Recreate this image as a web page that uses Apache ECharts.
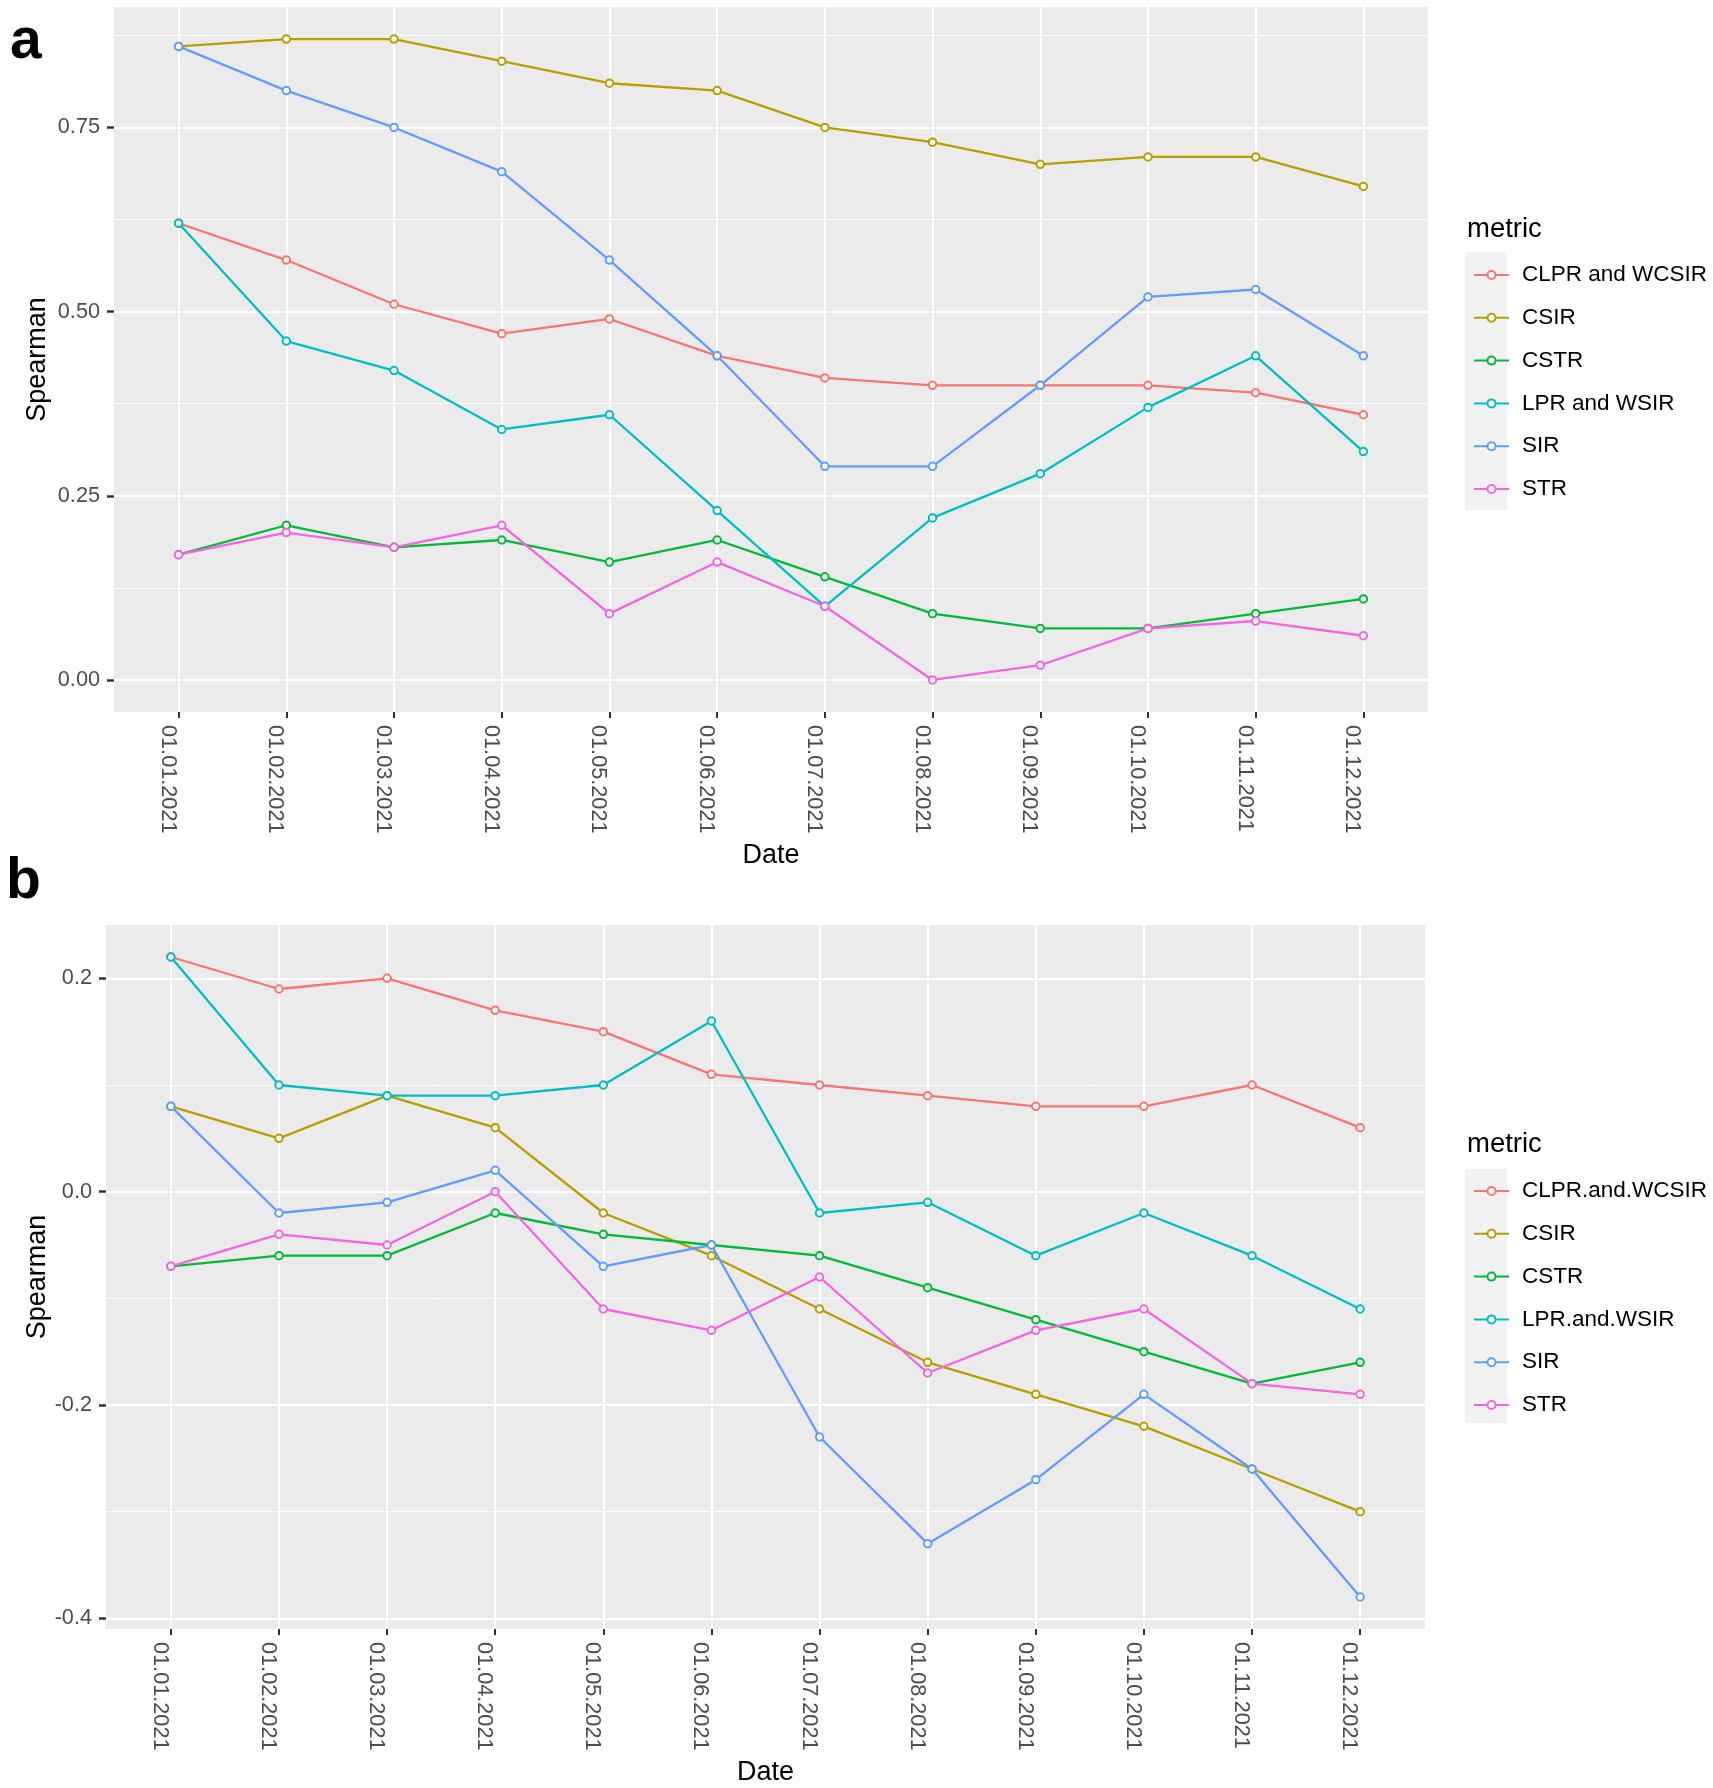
<!DOCTYPE html>
<html>
<head>
<meta charset="utf-8">
<script src="https://cdn.jsdelivr.net/npm/echarts@6.0.0/dist/echarts.min.js"></script>
<style>
html, body { margin: 0; padding: 0; background: #fff; }
#chart { width: 1713px; height: 1788px; }
</style>
</head>
<body>
<div id="chart"></div>
<script>
var dates = ['01.01.2021', '01.02.2021', '01.03.2021', '01.04.2021', '01.05.2021', '01.06.2021',
    '01.07.2021', '01.08.2021', '01.09.2021', '01.10.2021', '01.11.2021', '01.12.2021'];
var colors = ['#F8766D', '#B79F00', '#00BA38', '#00BFC4', '#619CFF', '#F564E3'];

// panel a
var namesA = ['CLPR and WCSIR', 'CSIR', 'CSTR', 'LPR and WSIR', 'SIR', 'STR'];
var clprA = [0.62, 0.57, 0.51, 0.47, 0.49, 0.44, 0.41, 0.40, 0.40, 0.40, 0.39, 0.36];
var csirA = [0.86, 0.87, 0.87, 0.84, 0.81, 0.80, 0.75, 0.73, 0.70, 0.71, 0.71, 0.67];
var cstrA = [0.17, 0.21, 0.18, 0.19, 0.16, 0.19, 0.14, 0.09, 0.07, 0.07, 0.09, 0.11];
var lprA = [0.62, 0.46, 0.42, 0.34, 0.36, 0.23, 0.10, 0.22, 0.28, 0.37, 0.44, 0.31];
var sirA = [0.86, 0.80, 0.75, 0.69, 0.57, 0.44, 0.29, 0.29, 0.40, 0.52, 0.53, 0.44];
var strA = [0.17, 0.20, 0.18, 0.21, 0.09, 0.16, 0.10, 0.00, 0.02, 0.07, 0.08, 0.06];
var ticksA = [0, 0.25, 0.5, 0.75];
var minorA = [0.125, 0.375, 0.625, 0.875];

// panel b
var namesB = ['CLPR.and.WCSIR', 'CSIR', 'CSTR', 'LPR.and.WSIR', 'SIR', 'STR'];
var clprB = [0.22, 0.19, 0.20, 0.17, 0.15, 0.11, 0.10, 0.09, 0.08, 0.08, 0.10, 0.06];
var csirB = [0.08, 0.05, 0.09, 0.06, -0.02, -0.06, -0.11, -0.16, -0.19, -0.22, -0.26, -0.30];
var cstrB = [-0.07, -0.06, -0.06, -0.02, -0.04, -0.05, -0.06, -0.09, -0.12, -0.15, -0.18, -0.16];
var lprB = [0.22, 0.10, 0.09, 0.09, 0.10, 0.16, -0.02, -0.01, -0.06, -0.02, -0.06, -0.11];
var sirB = [0.08, -0.02, -0.01, 0.02, -0.07, -0.05, -0.23, -0.33, -0.27, -0.19, -0.26, -0.38];
var strB = [-0.07, -0.04, -0.05, 0.00, -0.11, -0.13, -0.08, -0.17, -0.13, -0.11, -0.18, -0.19];
var ticksB = [-0.4, -0.2, 0, 0.2];
var minorB = [-0.3, -0.1, 0.1];

var seriesA = [clprA, csirA, cstrA, lprA, sirA, strA];
var seriesB = [clprB, csirB, cstrB, lprB, sirB, strB];
var idx = dates.map(function (d, i) { return i; });

var FONT = 'Liberation Sans, Arial, sans-serif';

// ggplot style expansion of 5% of the data range
function expand(arrs) {
    var all = [].concat.apply([], arrs);
    var lo = Math.min.apply(null, all), hi = Math.max.apply(null, all);
    var pad = (hi - lo) * 0.05;
    return [lo - pad, hi + pad];
}
var rangeA = expand(seriesA);
var rangeB = expand(seriesB);

function xAxisFor(g) {
    return {
        type: 'value', gridIndex: g, min: -0.6, max: 11.6,
        name: 'Date', nameLocation: 'middle', nameGap: 143.5, nameMoveOverlap: false,
        nameTextStyle: { fontFamily: FONT, fontSize: 27, color: '#000', verticalAlign: 'middle' },
        axisLine: { show: false, onZero: false },
        axisTick: { show: true, customValues: idx, length: 6, lineStyle: { color: '#333', width: 2 } },
        axisLabel: {
            customValues: idx, rotate: -90, margin: 13, verticalAlign: 'top',
            fontFamily: FONT, fontSize: 21.7, color: '#4D4D4D', lineHeight: 22,
            formatter: function (v) { return dates[Math.round(v)]; }
        },
        splitLine: { show: true, lineStyle: { color: '#fff', width: 2 } }
    };
}

function yAxisFor(g, range, ticks, digits, gap) {
    return {
        type: 'value', gridIndex: g, min: range[0], max: range[1], position: 'left',
        name: 'Spearman', nameLocation: 'middle', nameGap: gap, nameRotate: 90, nameMoveOverlap: false,
        nameTextStyle: { fontFamily: FONT, fontSize: 27, color: '#000', verticalAlign: 'middle' },
        axisLine: { show: false, onZero: false },
        axisTick: { show: true, customValues: ticks, length: 7, lineStyle: { color: '#333', width: 2.5 } },
        axisLabel: {
            customValues: ticks, margin: 14, fontFamily: FONT, fontSize: 21.7, color: '#4D4D4D',
            formatter: function (v) { return v.toFixed(digits); }
        },
        splitLine: { show: true, lineStyle: { color: '#fff', width: 2 } }
    };
}

function minorAxisFor(g, range, minor) {
    return {
        type: 'value', gridIndex: g, min: range[0], max: range[1], position: 'right',
        axisLine: { show: false, onZero: false },
        axisTick: { show: false, customValues: minor },
        axisLabel: { show: false, customValues: minor },
        splitLine: { show: true, lineStyle: { color: '#fff', width: 1 } }
    };
}

var series = [];
seriesA.forEach(function (vals, k) {
    series.push({
        name: namesA[k], type: 'line', xAxisIndex: 0, yAxisIndex: 0,
        data: vals.map(function (v, i) { return [i, v]; }),
        symbol: 'emptyCircle', symbolSize: 7.5, color: colors[k],
        lineStyle: { width: 2.3 }, itemStyle: { borderWidth: 1.5 }
    });
});
seriesB.forEach(function (vals, k) {
    series.push({
        name: namesB[k], type: 'line', xAxisIndex: 1, yAxisIndex: 2,
        data: vals.map(function (v, i) { return [i, v]; }),
        symbol: 'emptyCircle', symbolSize: 7.5, color: colors[k],
        lineStyle: { width: 2.3 }, itemStyle: { borderWidth: 1.5 }
    });
});

function legendFor(names, top) {
    return {
        orient: 'vertical', left: 1468, top: top, data: names,
        itemWidth: 35, itemHeight: 10, itemGap: 18.8, selectedMode: false,
        textStyle: { fontFamily: FONT, fontSize: 22.5, color: '#000', lineHeight: 24, padding: [0, 0, 0, 8] }
    };
}

var myChart = echarts.init(document.getElementById('chart'), null, { renderer: 'canvas' });

option = {
    animation: false,
    backgroundColor: '#fff',
    grid: [
        { left: 114, top: 7, width: 1314, height: 705, show: true, backgroundColor: '#EBEBEB', borderWidth: 0 },
        { left: 106, top: 925, width: 1319, height: 704, show: true, backgroundColor: '#EBEBEB', borderWidth: 0 }
    ],
    xAxis: [xAxisFor(0), xAxisFor(1)],
    yAxis: [
        yAxisFor(0, rangeA, ticksA, 2, 76),
        minorAxisFor(0, rangeA, minorA),
        yAxisFor(1, rangeB, ticksB, 1, 68),
        minorAxisFor(1, rangeB, minorB)
    ],
    legend: [legendFor(namesA, 258), legendFor(namesB, 1174)],
    graphic: [
        { type: 'rect', shape: { x: 1465, y: 252, width: 42, height: 258 }, style: { fill: '#F2F2F2' }, z: -1 },
        { type: 'rect', shape: { x: 1465, y: 1169, width: 42, height: 254 }, style: { fill: '#F2F2F2' }, z: -1 },
        { type: 'text', x: 1467, y: 229, style: { text: 'metric', font: '27.5px ' + FONT, fill: '#000', verticalAlign: 'middle' } },
        { type: 'text', x: 1467, y: 1144, style: { text: 'metric', font: '27.5px ' + FONT, fill: '#000', verticalAlign: 'middle' } },
        { type: 'text', x: 10, y: 42, style: { text: 'a', font: 'bold 57px ' + FONT, fill: '#000', verticalAlign: 'middle' } },
        { type: 'text', x: 6, y: 882, style: { text: 'b', font: 'bold 57px ' + FONT, fill: '#000', verticalAlign: 'middle' } }
    ],
    series: series
};

myChart.setOption(option);
</script>
</body>
</html>
